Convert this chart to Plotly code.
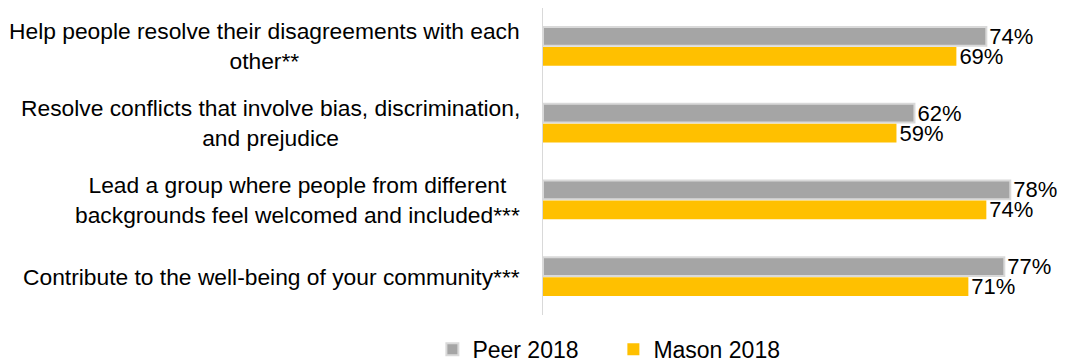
import plotly.graph_objects as go

categories = [
    "Help people resolve their disagreements with each<br>other**",
    "Resolve conflicts that involve bias, discrimination,<br>and prejudice",
    "Lead a group where people from different<br>backgrounds feel welcomed and included***",
    "Contribute to the well-being of your community***",
]
peer_2018 = [74, 62, 78, 77]
mason_2018 = [69, 59, 74, 71]

FONT = "Liberation Sans"
fig = go.Figure()
fig.add_trace(go.Bar(
    y=categories, x=peer_2018, orientation="h", name="Peer 2018",
    marker=dict(color="#A5A5A5", line=dict(color="#D9D9D9", width=2)),
    text=[f"{v}%" for v in peer_2018], textposition="outside", constraintext="none",
    textfont=dict(size=22, color="#000000", family=FONT), cliponaxis=False,
))
fig.add_trace(go.Bar(
    y=categories, x=mason_2018, orientation="h", name="Mason 2018",
    marker=dict(color="#FFC000", line=dict(width=0)),
    text=[f"{v}%" for v in mason_2018], textposition="outside", constraintext="none",
    textfont=dict(size=22, color="#000000", family=FONT), cliponaxis=False,
))

annotations = []
for c in categories:
    annotations.append(dict(
        x=0, xref="paper", y=c, yref="y", xanchor="right", xshift=-21,
        text=c, showarrow=False, align="center",
        font=dict(size=22.8, color="#000000", family=FONT),
    ))

fig.update_layout(
    width=1078, height=362,
    margin=dict(l=543, r=0, t=8, b=47, autoexpand=False),
    paper_bgcolor="white", plot_bgcolor="white",
    barmode="group", bargap=0.48, bargroupgap=0.06,
    font=dict(family=FONT, color="#000000"),
    xaxis=dict(range=[0, 89.3], showgrid=False, showticklabels=False, zeroline=False, showline=False),
    yaxis=dict(autorange="reversed", showticklabels=False, showline=True, linecolor="#D9D9D9",
               linewidth=1, ticks="", showgrid=False),
    legend=dict(orientation="h", x=0.569, xref="container", xanchor="center",
                y=0.035, yref="container", yanchor="middle",
                font=dict(size=23, family=FONT), itemwidth=30, entrywidth=136),
    annotations=annotations,
    showlegend=True,
)
fig.write_html("out.html")
